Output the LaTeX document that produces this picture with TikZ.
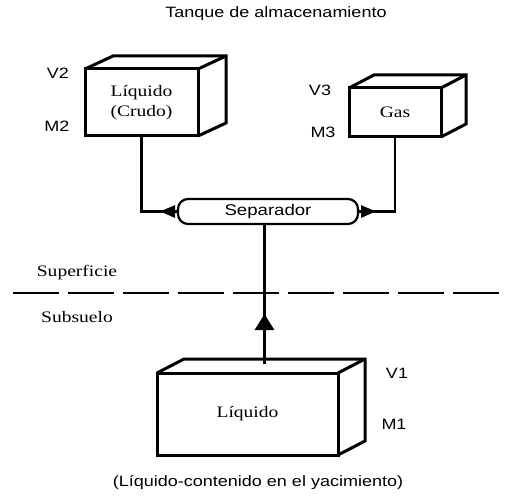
\documentclass[tikz,border=0pt]{standalone}
\usepackage{fontspec}
\setmainfont{Liberation Serif}[FakeStretch=1.22]
\setsansfont{Liberation Sans}[FakeStretch=1.2]
\usepackage{tikz}
\usetikzlibrary{arrows.meta,calc,decorations.markings}

\tikzset{
    caja/.style={draw, line width=3pt, outer sep=0pt, inner sep=0pt, align=center, font=\fontsize{16}{20}\selectfont},
    borde/.style={line width=3pt},
    conector/.style={line width=2.8pt},
    etiqueta/.style={font=\sffamily\fontsize{15}{18}\selectfont},
    rotulo/.style={font=\fontsize{16}{19}\selectfont},
    flecha en/.style 2 args={postaction={decorate}, decoration={markings, mark=at position #1 with {\arrow{#2}}}}
}

\newcommand{\fondo}[3]{%
    \draw[borde] (#1.north west) -- ++(#2,#3) -- ($(#1.north east)+(#2,#3)$) -- ($(#1.south east)+(#2,#3)$) -- (#1.south east);
    \draw[borde] (#1.north east) -- ++(#2,#3);
}

\begin{document}
\begin{tikzpicture}[x=1pt, y=-1pt]
    \useasboundingbox (0,0) rectangle (508,502);

    \node[etiqueta] (titulo) at (276,14) {Tanque de almacenamiento};

    \node[caja, minimum width=113pt, minimum height=67pt] (crudo) at (141.5,102.5) {Líquido\\(Crudo)};
    \fondo{crudo}{28}{-13}
    \node[etiqueta] (v2) at (58,73) {V2};
    \node[etiqueta] (m2) at (57,126) {M2};

    \node[caja, minimum width=92pt, minimum height=49pt] (gas) at (395,112.5) {Gas};
    \fondo{gas}{25}{-13}
    \node[etiqueta] (v3) at (320,90) {V3};
    \node[etiqueta] (m3) at (323,132) {M3};

    \node[draw, line width=2.2pt, rounded corners=10pt, outer sep=0pt, minimum width=180pt, minimum height=25pt,
          font=\sffamily\fontsize{15.5}{18}\selectfont] (sep) at (268,211.5) {Separador};

    \draw[conector, flecha en={18pt}{Triangle[length=15pt,width=12pt]}] (sep.west) -| (crudo.south);
    \draw[conector, flecha en={18pt}{Triangle[length=15pt,width=12pt]}] (sep.east) -| (gas.south);

    \node[rotulo] (superficie) at (77,273) {Superficie};
    \coordinate (suelo izq) at (13,293);
    \coordinate (suelo der) at (508,293);
    \draw[line width=2.8pt, dash pattern=on 46pt off 9pt] (suelo izq) -- (suelo der);
    \node[rotulo] (subsuelo) at (77,317) {Subsuelo};

    \node[caja, minimum width=181pt, minimum height=82pt] (liquido) at (247.5,414) {Líquido};
    \fondo{liquido}{27}{-14}
    \node[etiqueta] (v1) at (397,373) {V1};
    \node[etiqueta] (m1) at (394,424) {M1};

    \coordinate (tapa) at ($(liquido.north)+(17,-9)$);
    \draw[conector, flecha en={50pt}{Triangle[length=16pt,width=19pt]}] (tapa) -- (tapa |- sep.south);

    \node[etiqueta] (yacimiento) at (258,483) {(Líquido-contenido en el yacimiento)};
\end{tikzpicture}
\end{document}
